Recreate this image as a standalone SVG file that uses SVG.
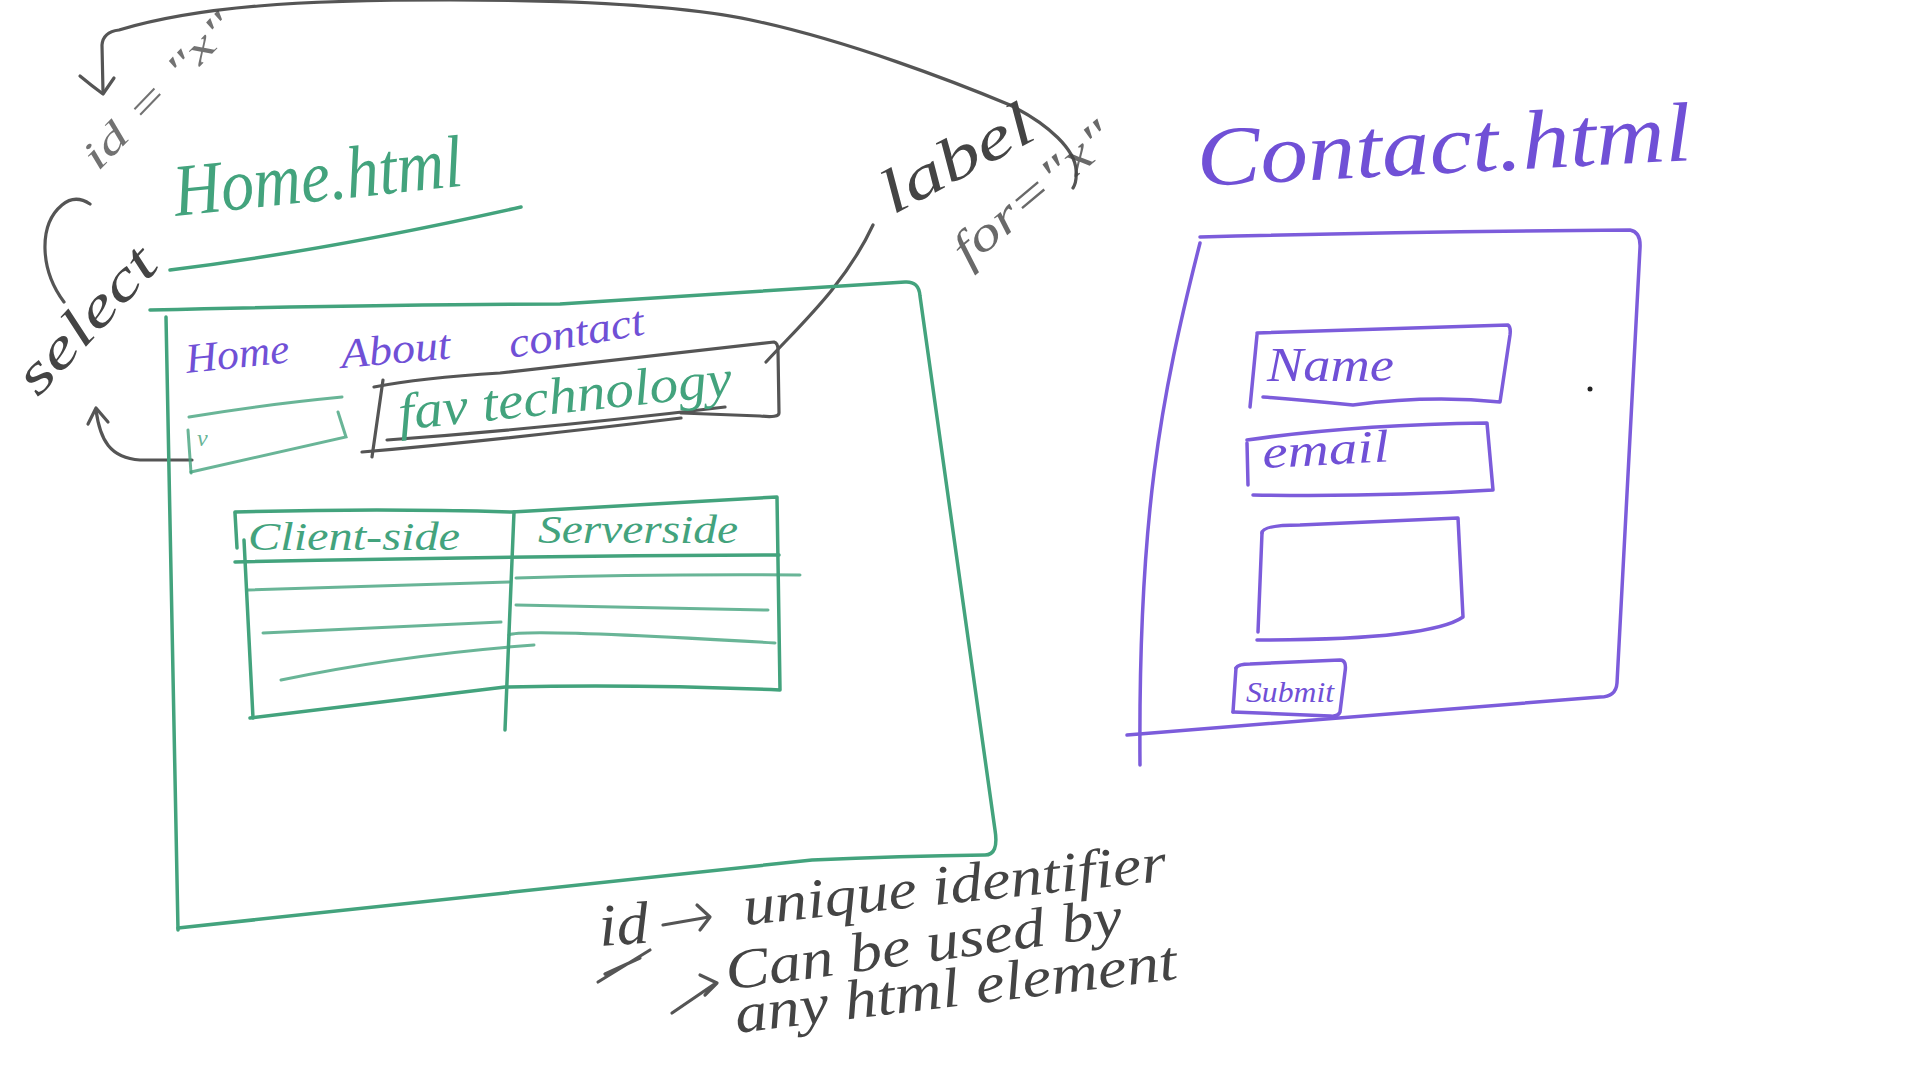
<svg xmlns="http://www.w3.org/2000/svg" width="1920" height="1080" viewBox="0 0 1920 1080">
<style>
  .g{fill:none;stroke:#43a37d;stroke-width:3.5;stroke-linecap:round;stroke-linejoin:round}
  .gl{fill:none;stroke:#43a37d;stroke-width:3;stroke-linecap:round;opacity:.8}
  .p{fill:none;stroke:#7c5cdb;stroke-width:3.5;stroke-linecap:round;stroke-linejoin:round}
  .k{fill:none;stroke:#555;stroke-width:3.2;stroke-linecap:round;stroke-linejoin:round}
  .t{font-family:"Liberation Serif",serif;font-style:italic}
  .tg{fill:#43a37d}
  .tp{fill:#7050d6}
  .tk{fill:#444}
</style>
<rect width="1920" height="1080" fill="#ffffff"/>

<g id="connectors">
  <path class="k" d="M103,92 L102,45 Q103,32 119,30 C200,6 300,0 450,0 C600,0 700,8 760,22 C850,42 950,80 1010,105 C1050,125 1075,150 1076,170 Q1077,182 1073,188"/>
  <path class="k" d="M80,76 Q92,86 103,94 L114,78"/>
  <path class="k" d="M64,302 C40,270 38,225 62,205 Q75,194 90,204"/>
  <path class="k" d="M192,460 L140,460 C110,458 100,440 96,410"/>
  <path class="k" d="M88,424 L96,408 L108,422"/>
  <path class="k" d="M873,225 C845,285 800,325 766,362"/>
</g>

<g id="home-title">
  <text class="t tg" x="0" y="0" font-size="74" textLength="290" lengthAdjust="spacingAndGlyphs" transform="translate(176,216) rotate(-6)">Home.html</text>
  <path class="g" d="M170,270 Q330,250 521,207"/>
</g>

<g id="home-page">
  <path class="g" d="M150,310 Q400,304 560,304 L905,282 Q919,281 920,296 L995,830 Q999,855 985,855 Q900,856 812,860 L178,928"/>
  <path class="g" d="M166,317 L178,930"/>
</g>

<g id="nav">
  <text class="t tp" x="0" y="0" font-size="42" textLength="104" lengthAdjust="spacingAndGlyphs" transform="translate(187,373) rotate(-6)">Home</text>
  <text class="t tp" x="0" y="0" font-size="42" textLength="110" lengthAdjust="spacingAndGlyphs" transform="translate(342,368) rotate(-5)">About</text>
  <text class="t tp" x="0" y="0" font-size="42" textLength="137" lengthAdjust="spacingAndGlyphs" transform="translate(511,358) rotate(-10)">contact</text>
</g>

<g id="select-box">
  <path class="gl" d="M189,417 Q260,405 342,397"/>
  <path class="gl" d="M338,412 L346,437 L191,472"/>
  <path class="gl" d="M188,430 L191,473"/>
  <text class="t tg" x="197" y="446" font-size="24" opacity=".8">v</text>
</g>

<g id="fav-box">
  <path class="k" d="M374,387 Q420,378 500,373 L774,342 Q778,343 778,350 L779,413 Q779,418 760,416 L681,413"/>
  <path class="k" d="M387,440 Q550,428 725,407"/>
  <path class="k" d="M362,452 Q500,440 681,418"/>
  <path class="k" d="M383,380 L372,457"/>
  <text class="t tg" x="0" y="0" font-size="52" textLength="335" lengthAdjust="spacingAndGlyphs" transform="translate(400,430) rotate(-6)">fav technology</text>
</g>

<g id="table">
  <path class="g" d="M235,512 Q380,508 512,512 L777,497 L780,690 Q640,684 505,687 L250,718"/>
  <path class="g" d="M235,513 L237,548 M244,540 L253,718"/>
  <path class="g" d="M514,512 L505,730"/>
  <path class="g" d="M235,562 Q500,556 779,555"/>
  <path class="gl" d="M516,578 Q650,574 800,575"/>
  <path class="gl" d="M248,590 L509,582"/>
  <path class="gl" d="M263,633 L501,622"/>
  <path class="gl" d="M281,680 Q400,655 534,645"/>
  <path class="gl" d="M516,605 L768,610"/>
  <path class="gl" d="M509,635 Q520,628 775,643"/>
  <text class="t tg" x="248" y="550" font-size="40" textLength="212" lengthAdjust="spacingAndGlyphs">Client-side</text>
  <text class="t tg" x="538" y="543" font-size="40" textLength="200" lengthAdjust="spacingAndGlyphs">Serverside</text>
</g>

<g id="select-note">
  <text class="t tk" x="0" y="0" font-size="56" textLength="180" lengthAdjust="spacingAndGlyphs" transform="translate(38,398) rotate(-47)">select</text>
  <text class="t tk" x="0" y="0" font-size="40" textLength="200" lengthAdjust="spacingAndGlyphs" opacity=".75" transform="translate(98,172) rotate(-46)">id = "x"</text>
</g>

<g id="label-note">
  <text class="t tk" x="0" y="0" font-size="62" textLength="165" lengthAdjust="spacingAndGlyphs" transform="translate(893,215) rotate(-28)">label</text>
  <text class="t tk" x="0" y="0" font-size="48" textLength="195" lengthAdjust="spacingAndGlyphs" opacity=".8" transform="translate(968,268) rotate(-40)">for="x"</text>
</g>

<g id="id-note">
  <text class="t tk" x="0" y="0" font-size="60" textLength="50" lengthAdjust="spacingAndGlyphs" transform="translate(600,946) rotate(-4)">id</text>
  <path class="k" d="M598,982 L650,950 M605,974 L640,958"/>
  <path class="k" d="M663,925 L709,917 M697,905 L710,917 L700,930"/>
  <text class="t tk" x="0" y="0" font-size="56" textLength="425" lengthAdjust="spacingAndGlyphs" transform="translate(745,925) rotate(-6)">unique identifier</text>
  <path class="k" d="M672,1013 L716,983 M700,975 L717,983 L705,995"/>
  <text class="t tk" x="0" y="0" font-size="56" textLength="400" lengthAdjust="spacingAndGlyphs" transform="translate(728,990) rotate(-8)">Can be used by</text>
  <text class="t tk" x="0" y="0" font-size="56" textLength="445" lengthAdjust="spacingAndGlyphs" transform="translate(737,1033) rotate(-7)">any html element</text>
</g>

<g id="contact-title">
  <text class="t tp" x="0" y="0" font-size="84" textLength="495" lengthAdjust="spacingAndGlyphs" transform="translate(1198,186) rotate(-3)">Contact.html</text>
</g>

<g id="contact-page">
  <path class="p" d="M1200,237 Q1400,232 1630,230 Q1641,232 1640,248 L1617,683 Q1616,697 1600,697 L1127,735"/>
  <path class="p" d="M1200,243 C1160,400 1138,520 1140,765"/>
</g>

<g id="name-field">
  <path class="p" d="M1257,333 L1508,325 Q1511,327 1510,335 L1500,402 Q1430,395 1353,405 Q1300,400 1263,397"/>
  <path class="p" d="M1257,335 L1250,407"/>
  <text class="t tp" x="1267" y="381" font-size="48" textLength="127" lengthAdjust="spacingAndGlyphs">Name</text>
</g>

<g id="email-field">
  <path class="p" d="M1247,440 Q1350,425 1487,423 L1493,490 Q1380,497 1253,495"/>
  <path class="p" d="M1247,443 L1248,485"/>
  <text class="t tp" x="0" y="0" font-size="46" textLength="127" lengthAdjust="spacingAndGlyphs" transform="translate(1263,468) rotate(-3)">email</text>
</g>

<g id="message-field">
  <path class="p" d="M1262,533 Q1262,525 1300,525 L1458,518 L1463,617 Q1430,640 1257,640"/>
  <path class="p" d="M1262,533 L1258,632"/>
</g>

<g id="submit-button">
  <path class="p" d="M1236,668 Q1238,664 1250,664 L1340,660 Q1347,660 1345,672 L1340,712 Q1338,717 1330,716 L1233,712"/>
  <path class="p" d="M1236,668 L1233,712"/>
  <text class="t tp" x="1246" y="702" font-size="30" textLength="88" lengthAdjust="spacingAndGlyphs">Submit</text>
</g>

<circle cx="1590" cy="389" r="2.5" fill="#222"/>
</svg>
